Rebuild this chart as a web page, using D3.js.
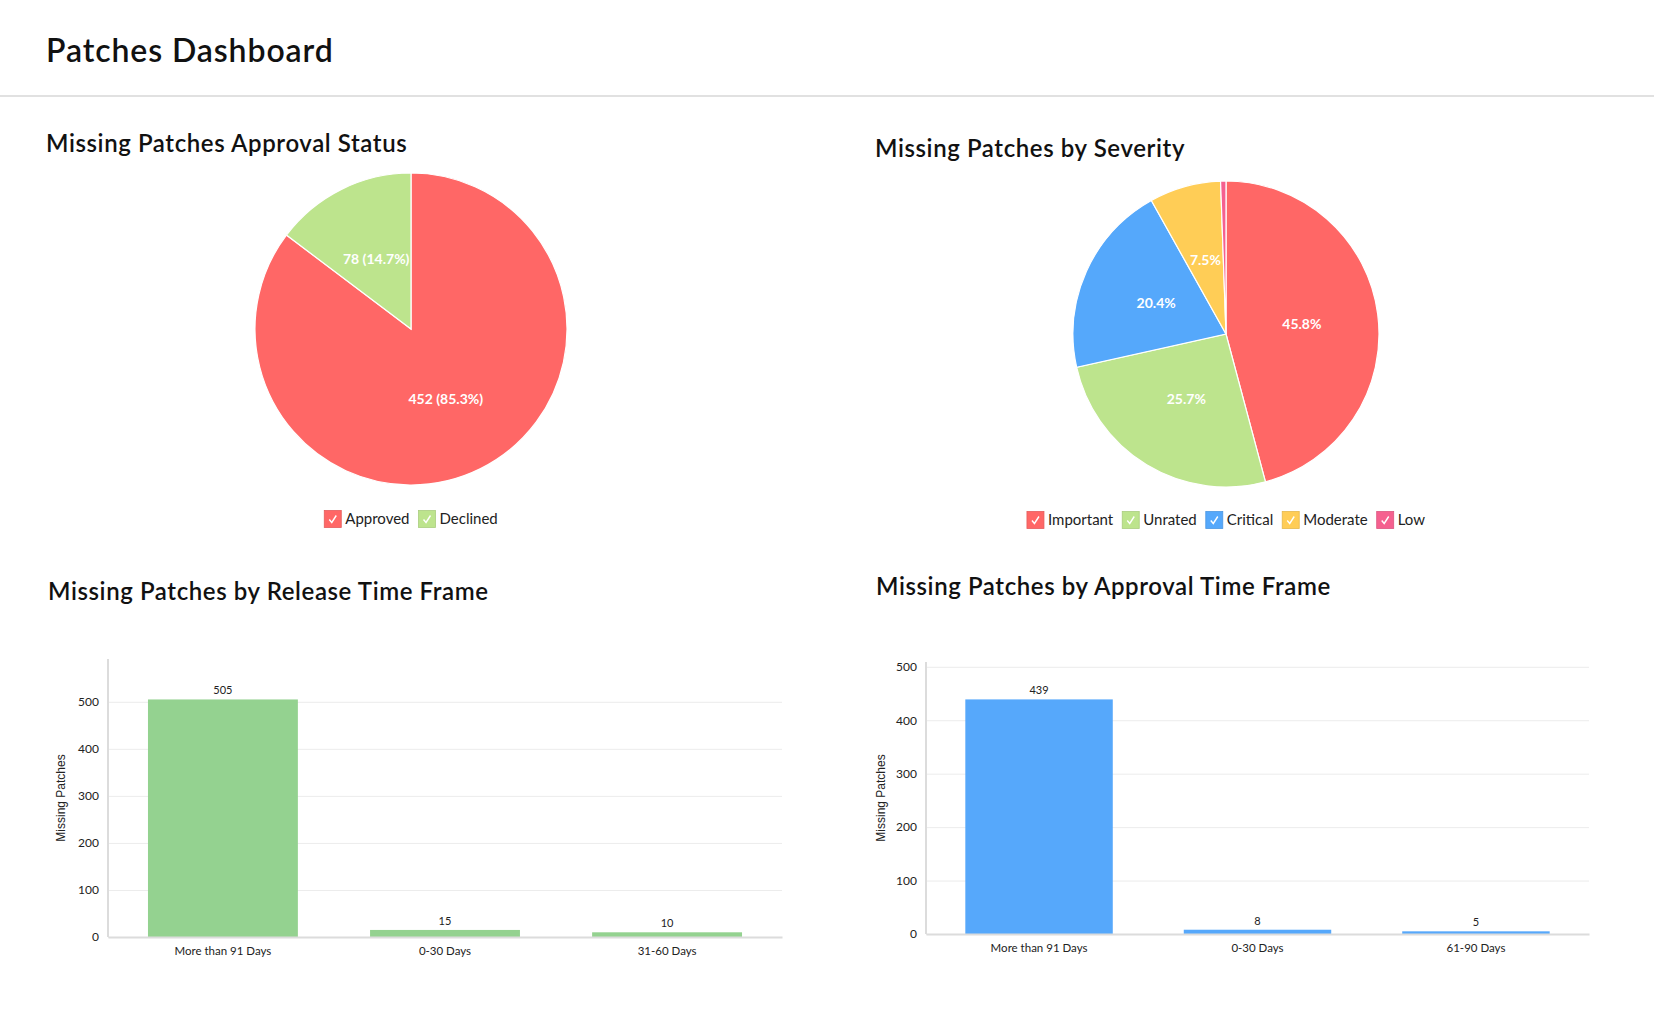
<!DOCTYPE html>
<html>
<head>
<meta charset="utf-8">
<script src="https://cdn.jsdelivr.net/npm/d3@7"></script>
<style>
  body { margin: 0; background: #fff; }
  svg { display: block; }
  .title { font-family: Lato, "Open Sans", sans-serif; font-weight: 600; fill: #111; }
  .tick text { font-family: Lato, sans-serif; font-size: 12px; fill: #222; }
  .legend text { font-family: Lato, sans-serif; font-size: 15px; fill: #222; }
</style>
</head>
<body>
<div id="dash"></div>
<script>
var approvalLabels = ["Approved", "Declined"],
    approvalValues = [452, 78],
    severityLabels = ["Important", "Unrated", "Critical", "Moderate", "Low"],
    severityValues = [243, 136, 108, 40, 3],
    releaseFrames = ["More than 91 Days", "0-30 Days", "31-60 Days"],
    releaseValues = [505, 15, 10],
    approvalFrames = ["More than 91 Days", "0-30 Days", "61-90 Days"],
    approvalFrameValues = [439, 8, 5],
    yTicks = [0, 100, 200, 300, 400, 500];

var pieColors = ["#ff6766", "#bde48d", "#55a8fb", "#ffcd56", "#f5608f"];

var width = 1654, height = 1018;

var svg = d3.select("#dash").append("svg")
    .attr("width", width)
    .attr("height", height);

// header
svg.append("text").attr("class", "title")
    .attr("x", 46).attr("y", 62)
    .style("font-size", "32px")
    .style("letter-spacing", "0.9px")
    .text("Patches Dashboard");

svg.append("rect")
    .attr("x", 0).attr("y", 95)
    .attr("width", width).attr("height", 2)
    .attr("fill", "#e1e1e1");

function sectionTitle(x, y, txt) {
    svg.append("text").attr("class", "title")
        .attr("x", x).attr("y", y)
        .style("font-size", "24px")
        .style("letter-spacing", "0.6px")
        .text(txt);
}

sectionTitle(46, 152, "Missing Patches Approval Status");
sectionTitle(875, 157, "Missing Patches by Severity");
sectionTitle(48, 600, "Missing Patches by Release Time Frame");
sectionTitle(876, 595, "Missing Patches by Approval Time Frame");

var pieChart = function (labels, values, cx, cy, r, legendY, fmt) {
    var total = d3.sum(values);
    var pie = d3.pie().sort(null).value(function (d) { return d; });
    var arc = d3.arc().innerRadius(0).outerRadius(r);
    var labelArc = d3.arc().innerRadius(r / 2).outerRadius(r / 2);

    var g = svg.append("g").attr("transform", "translate(" + cx + "," + cy + ")");
    var arcs = pie(values);

    g.selectAll(".slice")
        .data(arcs)
        .enter().append("path")
        .attr("class", "slice")
        .attr("d", arc)
        .attr("fill", function (d, i) { return pieColors[i]; })
        .attr("stroke", "#fff")
        .attr("stroke-width", 1.2);

    g.selectAll(".plabel")
        .data(arcs.filter(function (d) { return d.value / total > 0.02; }))
        .enter().append("text")
        .attr("class", "plabel")
        .attr("transform", function (d) { return "translate(" + labelArc.centroid(d) + ")"; })
        .attr("text-anchor", "middle")
        .attr("dy", "0.35em")
        .style("font-family", "Lato, sans-serif")
        .style("font-size", "14px")
        .style("font-weight", 700)
        .style("fill", "#fff")
        .text(function (d) { return fmt(d.value, d.value / total * 100); });

    // legend, centred under the pie
    var lg = svg.append("g").attr("class", "legend");
    var items = lg.selectAll(".item")
        .data(labels)
        .enter().append("g")
        .attr("class", "item");

    items.append("rect")
        .attr("x", 0).attr("y", -8.5)
        .attr("width", 17).attr("height", 17)
        .attr("fill", function (d, i) { return pieColors[i]; })
        .attr("stroke", function (d, i) { return d3.color(pieColors[i]).darker(0.3); })
        .attr("stroke-width", 0.8);

    items.append("path")
        .attr("d", "M5,0.5 L7.5,3.5 L12,-3.5")
        .attr("fill", "none")
        .attr("stroke", "#fff")
        .attr("stroke-width", 1.4);

    items.append("text")
        .attr("x", 21).attr("dy", "0.35em")
        .text(function (d) { return d; });

    var pos = 0;
    items.each(function () {
        var w = 21 + this.querySelector("text").getComputedTextLength();
        d3.select(this).attr("transform", "translate(" + pos + ",0)");
        pos += w + 9;
    });
    pos -= 9;
    lg.attr("transform", "translate(" + (cx - pos / 2) + "," + legendY + ")");
};

pieChart(approvalLabels, approvalValues, 411, 329, 156, 519,
    function (v, p) { return v + " (" + p.toFixed(1) + "%)"; });
pieChart(severityLabels, severityValues, 1226, 334, 153, 520,
    function (v, p) { return p.toFixed(1) + "%"; });

var barChart = function (cats, values, box, color) {
    var x = d3.scaleBand()
        .domain(cats)
        .range([box.left, box.right])
        .paddingInner(0.325)
        .paddingOuter(0.18);

    var y = d3.scaleLinear()
        .domain([0, box.max])
        .range([box.bottom, box.top]);

    var g = svg.append("g");

    // gridlines + tick labels
    var yAxis = g.append("g")
        .attr("transform", "translate(" + box.left + ",0)")
        .call(d3.axisLeft(y).tickValues(yTicks).tickSize(-(box.right - box.left)).tickPadding(9));
    yAxis.select(".domain").remove();
    yAxis.selectAll(".tick line").attr("stroke", "#ececec").attr("stroke-width", 1);

    // left axis line
    g.append("line")
        .attr("x1", box.left).attr("x2", box.left)
        .attr("y1", box.top).attr("y2", box.bottom)
        .attr("stroke", "#dcdcdc").attr("stroke-width", 2);

    g.selectAll(".bar")
        .data(values)
        .enter().append("rect")
        .attr("class", "bar")
        .attr("x", function (d, i) { return x(cats[i]); })
        .attr("y", function (d) { return y(d); })
        .attr("width", x.bandwidth())
        .attr("height", function (d) { return y(0) - y(d); })
        .attr("fill", color);

    g.selectAll(".val")
        .data(values)
        .enter().append("text")
        .attr("class", "val")
        .attr("x", function (d, i) { return x(cats[i]) + x.bandwidth() / 2; })
        .attr("y", function (d) { return y(d) - 5; })
        .attr("text-anchor", "middle")
        .style("font-family", "Lato, sans-serif")
        .style("font-size", "11px")
        .style("fill", "#222")
        .text(function (d) { return d; });

    // baseline + category labels
    var xAxis = g.append("g")
        .attr("transform", "translate(0," + box.bottom + ")")
        .call(d3.axisBottom(x).tickSize(0).tickPadding(10));
    xAxis.select(".domain").attr("stroke", "#dcdcdc").attr("stroke-width", 2);
    xAxis.selectAll(".tick text").style("font-size", "11.5px");

    g.append("text")
        .attr("transform", "translate(" + box.titleX + "," + (box.top + box.bottom) / 2 + ") rotate(-90)")
        .attr("text-anchor", "middle")
        .attr("dy", "0.35em")
        .style("font-family", "'Liberation Sans', Arial, sans-serif")
        .style("font-size", "12px")
        .style("fill", "#222")
        .text("Missing Patches");
};

barChart(releaseFrames, releaseValues,
    { left: 108, right: 782, top: 659, bottom: 937, max: 591, titleX: 61 }, "#94d290");
barChart(approvalFrames, approvalFrameValues,
    { left: 926, right: 1589, top: 662, bottom: 934, max: 509, titleX: 881 }, "#56a8fb");
</script>
</body>
</html>
